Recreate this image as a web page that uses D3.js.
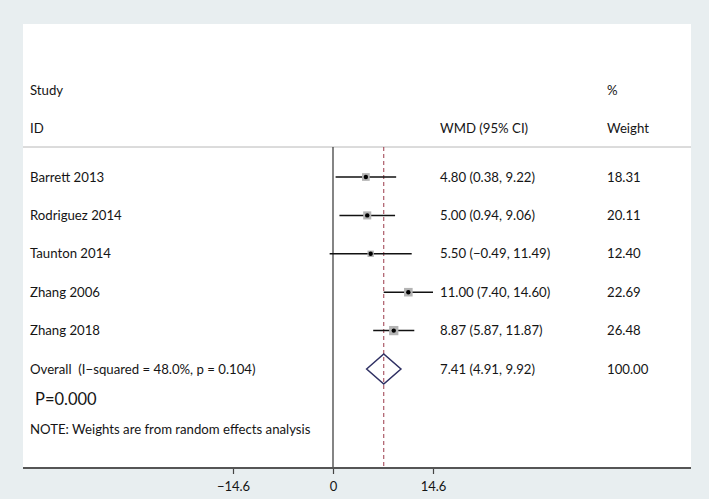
<!DOCTYPE html>
<html><head><meta charset="utf-8">
<script src="https://cdn.jsdelivr.net/npm/d3@7"></script>
<style>
html,body{margin:0;padding:0;background:#e8eef0;}
svg{display:block;font-family:Lato, "Open Sans", sans-serif;}
svg text{white-space:pre;}
</style></head>
<body><svg id="c" width="709" height="499"></svg>
<script>
const studies = ["Barrett 2013","Rodriguez 2014","Taunton 2014","Zhang 2006","Zhang 2018"];
const effect  = [4.80, 5.00, 5.50, 11.00, 8.87];
const lower   = [0.38, 0.94, -0.49, 7.40, 5.87];
const upper   = [9.22, 9.06, 11.49, 14.60, 11.87];
const weights = [18.31, 20.11, 12.40, 22.69, 26.48];
const overall = {label:"Overall  (I\u2212squared = 48.0%, p = 0.104)", es:7.41, lo:4.91, hi:9.92, w:100.00};
const tickValues = [-14.6, 0, 14.6];
const pText = "P=0.000";
const note = "NOTE: Weights are from random effects analysis";

const svg = d3.select("#c");
const W=709,H=499;
const panel={x0:23,y0:24,x1:691,y1:468};
svg.append("rect").attr("width",W).attr("height",H).attr("fill","#e8eef0");
svg.append("rect").attr("x",panel.x0).attr("y",panel.y0).attr("width",panel.x1-panel.x0).attr("height",panel.y1-panel.y0).attr("fill","#fff");

const x = d3.scaleLinear().domain([-14.6,14.6]).range([233,433]);
const rows = studies.concat(["__overall"]);
const y = d3.scalePoint().domain(rows).range([177,369]);
const fmt = d3.format(".2f");
const fs = 13.2;

const tx = 30, wmdX = 440, wX = 607;
function txt(xp, yp, s, size, anchor){
  return svg.append("text").attr("x",xp).attr("y",yp).attr("dy","0.35em")
    .attr("font-size",size||fs).attr("fill","#151515").attr("text-anchor",anchor||"start")
    .attr("xml:space","preserve").text(s);
}
txt(tx,90,"Study"); txt(tx,128,"ID");
txt(wmdX,128,"WMD (95% CI)");
txt(wX,90,"%"); txt(wX,128,"Weight");

svg.append("line").attr("x1",panel.x0).attr("x2",panel.x1).attr("y1",147).attr("y2",147)
  .attr("stroke","#b8b8b8").attr("stroke-width",1);

svg.append("line").attr("x1",x(0)).attr("x2",x(0)).attr("y1",147).attr("y2",panel.y1)
  .attr("stroke","#333").attr("stroke-width",1.2);
svg.append("line").attr("x1",x(overall.es)).attr("x2",x(overall.es)).attr("y1",147).attr("y2",panel.y1)
  .attr("stroke","#9b3a4a").attr("stroke-width",1).attr("stroke-dasharray","4,3");

studies.forEach((s,i)=>{
  const yy = y(s);
  txt(tx,yy,s);
  svg.append("line").attr("x1",x(lower[i])).attr("x2",x(upper[i])).attr("y1",yy).attr("y2",yy)
    .attr("stroke","#111").attr("stroke-width",1.5);
  const sz = 1.8*Math.sqrt(weights[i]);
  svg.append("rect").attr("x",x(effect[i])-sz/2).attr("y",yy-sz/2).attr("width",sz).attr("height",sz)
    .attr("fill","#b4b4b4");
  svg.append("circle").attr("cx",x(effect[i])).attr("cy",yy).attr("r",2.2).attr("fill","#000");
  txt(wmdX,yy,`${fmt(effect[i])} (${fmt(lower[i])}, ${fmt(upper[i])})`);
  txt(wX,yy,fmt(weights[i]));
});

const oy = y("__overall");
txt(tx,oy,overall.label);
const dh = 15;
svg.append("path").attr("d",`M${x(overall.lo)},${oy}L${x(overall.es)},${oy-dh}L${x(overall.hi)},${oy}L${x(overall.es)},${oy+dh}Z`)
  .attr("fill","none").attr("stroke","#2f3063").attr("stroke-width",1.5);
txt(wmdX,oy,`${fmt(overall.es)} (${fmt(overall.lo)}, ${fmt(overall.hi)})`);
txt(wX,oy,fmt(overall.w));

txt(35,399,pText,16.5);
txt(tx,429,note);

const ax = svg.append("g").attr("transform",`translate(0,${panel.y1})`)
  .call(d3.axisBottom(x).tickValues(tickValues).tickSize(6).tickPadding(8).tickFormat(d3.format("")));
ax.select(".domain").remove();
ax.selectAll(".tick line").attr("stroke","#444").attr("stroke-width",1.2);
ax.selectAll(".tick text").attr("font-size",13).attr("fill","#151515").attr("font-family","Lato, sans-serif");
svg.append("line").attr("x1",panel.x0).attr("x2",panel.x1).attr("y1",panel.y1).attr("y2",panel.y1)
  .attr("stroke","#555").attr("stroke-width",2);
</script></body></html>
